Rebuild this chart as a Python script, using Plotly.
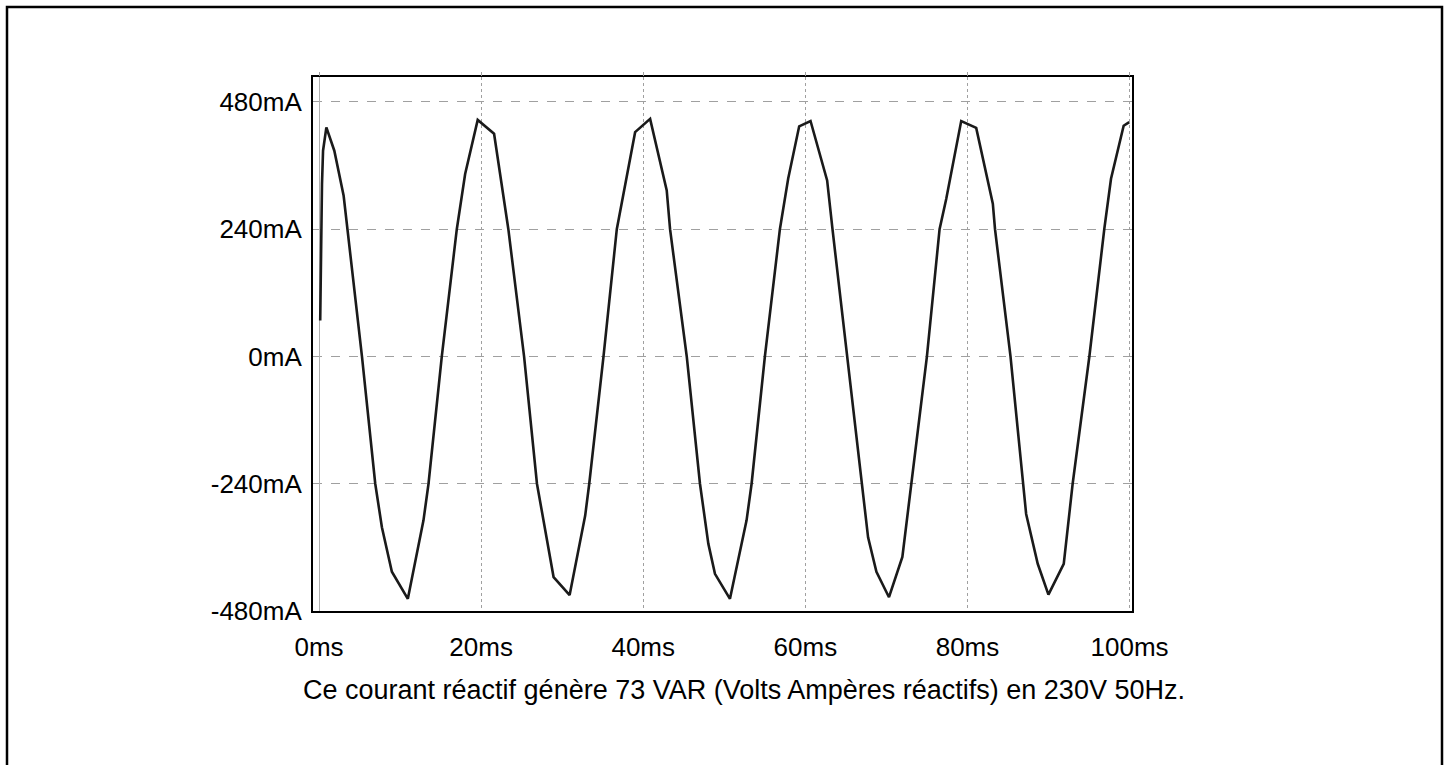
import plotly.graph_objects as go

# time (ms) and current (mA)
t_ms = [0.15, 0.25, 0.37, 0.50, 0.91, 1.89, 3.04, 5.30, 6.94, 7.76, 8.99, 10.96, 12.89,
        13.51, 15.15, 17.0, 18.03, 19.58, 21.60, 23.36, 25.3, 26.89, 28.94, 30.92, 32.84,
        33.34, 35.10, 36.74, 37.98, 39.0, 40.85, 42.9, 43.31, 45.37, 47.0, 48.03, 48.85,
        50.70, 52.75, 53.37, 55.01, 56.86, 57.88, 59.24, 60.64, 62.69, 63.35, 65.15, 66.92,
        67.74, 68.77, 70.32, 71.97, 73.08, 75.0, 76.56, 77.38, 79.23, 81.08, 83.13, 83.4,
        85.31, 86.83, 87.24, 88.67, 89.99, 91.88, 92.98, 95.04, 96.88, 97.71, 99.27, 99.96]
i_mA = [68, 206, 325, 388, 432, 388, 303, 0, -240, -322, -406, -457, -309,
        -240, 0, 240, 344, 446, 420, 240, 0, -240, -416, -450, -300,
        -240, 0, 240, 344, 423, 448, 313, 240, 0, -240, -353, -410,
        -457, -309, -240, 0, 240, 335, 434, 444, 332, 240, 0, -240,
        -341, -406, -454, -378, -240, 0, 240, 297, 444, 431, 288, 240,
        0, -240, -297, -391, -449, -391, -240, 0, 240, 335, 435, 442]

x_ticks = [0, 20, 40, 60, 80, 100]
x_labels = ["0ms", "20ms", "40ms", "60ms", "80ms", "100ms"]
y_ticks = [-480, -240, 0, 240, 480]
y_labels = ["-480mA", "-240mA", "0mA", "240mA", "480mA"]
caption = "Ce courant réactif génère 73 VAR (Volts Ampères réactifs) en 230V 50Hz."

W, H = 1450, 765
L, R, T, B = 313, 1132, 77, 611
X_RANGE = [-0.74, 100.3]

fig = go.Figure()
fig.add_trace(go.Scatter(x=t_ms, y=i_mA, mode="lines",
                         line=dict(color="#1a1a1a", width=2.6), hoverinfo="skip",
                         showlegend=False))
# invisible trace so the top tick axis is drawn
fig.add_trace(go.Scatter(x=[t_ms[0]], y=[i_mA[0]], xaxis="x2", mode="markers",
                         marker=dict(opacity=0), hoverinfo="skip", showlegend=False))

font = dict(family="Liberation Sans, Arial, sans-serif", size=26, color="#000000")
cap_font = dict(family="Liberation Sans, Arial, sans-serif", size=27, color="#000000")

fig.update_layout(
    width=W, height=H,
    margin=dict(l=L, r=W - R, t=T, b=H - B, pad=0),
    paper_bgcolor="white", plot_bgcolor="white",
    font=font,
    showlegend=False,
    xaxis=dict(range=X_RANGE, tickvals=x_ticks, ticktext=x_labels,
               showgrid=True, gridcolor="#a0a0a0", griddash="dot", gridwidth=1,
               zeroline=True, zerolinecolor="#b0b0b0", zerolinewidth=1,
               showline=True, linecolor="black", linewidth=2, mirror=True,
               ticks="", ticklabelstandoff=12, tickfont=font, fixedrange=True),
    xaxis2=dict(range=X_RANGE, overlaying="x", side="top", tickvals=x_ticks,
                showticklabels=False, ticks="outside", ticklen=4, tickcolor="#a0a0a0",
                tickwidth=1, showgrid=False, zeroline=False, showline=False,
                fixedrange=True),
    yaxis=dict(range=[-480, 527], tickvals=y_ticks, ticktext=y_labels,
               showgrid=True, gridcolor="#a0a0a0", griddash="dash", gridwidth=1,
               zeroline=False,
               showline=True, linecolor="black", linewidth=2, mirror=True,
               ticks="", ticklabelstandoff=4, tickfont=font, fixedrange=True),
)

# caption under the chart
fig.add_annotation(text=caption, xref="paper", yref="paper",
                   x=(744 - L) / (R - L), y=(B - 690) / (B - T),
                   xanchor="center", yanchor="middle", showarrow=False, font=cap_font)

# outer frame (bottom edge lies below the visible page)
fig.add_shape(type="rect", xref="paper", yref="paper",
              x0=(7 - L) / (R - L), x1=(1442 - L) / (R - L),
              y0=(B - 800) / (B - T), y1=(B - 7) / (B - T),
              line=dict(color="black", width=2.5), fillcolor="rgba(0,0,0,0)", layer="above")

fig.write_html("out.html")
